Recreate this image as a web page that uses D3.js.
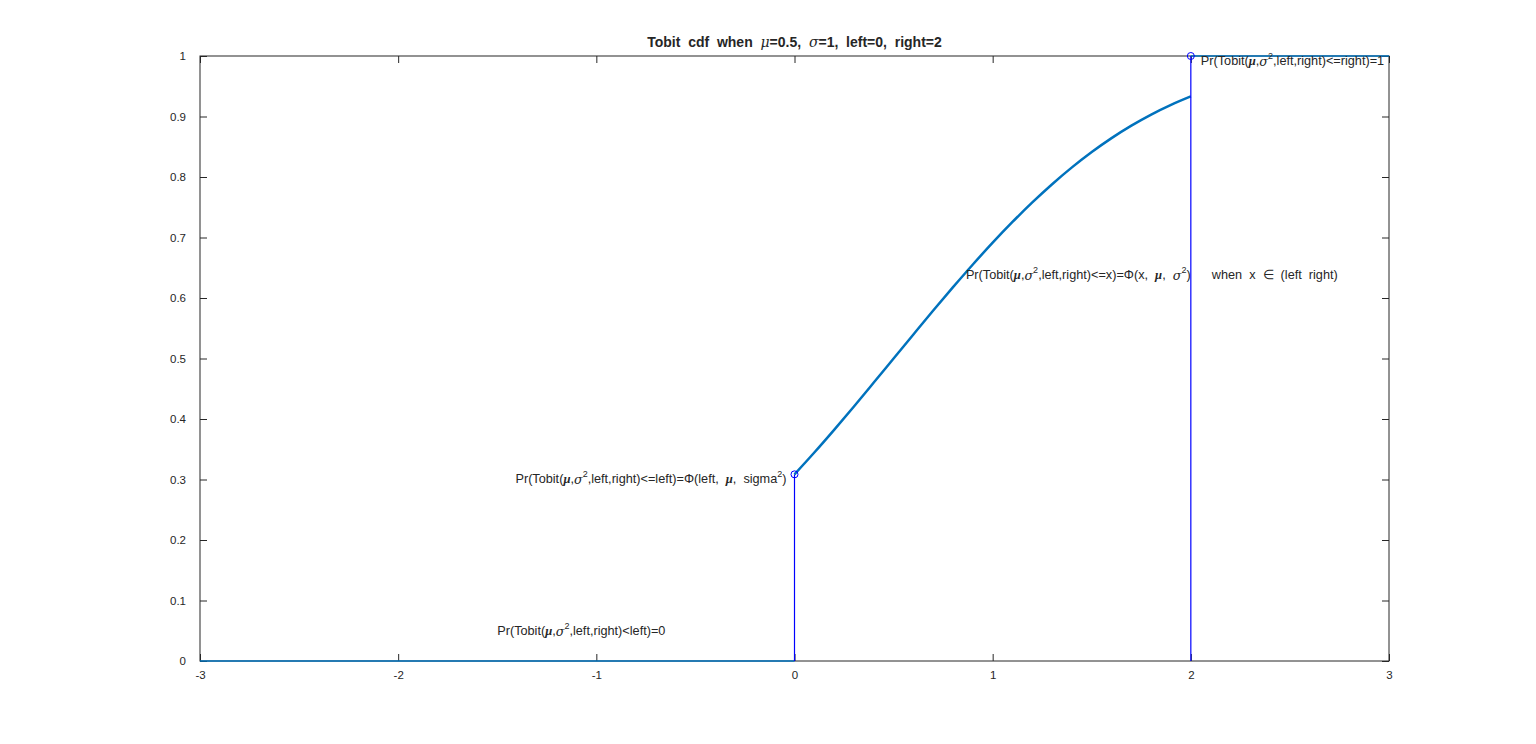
<!DOCTYPE html>
<html><head><meta charset="utf-8">
<script src="https://cdn.jsdelivr.net/npm/d3@7"></script>
<style>
body{margin:0;background:#fff;}
svg text{font-family:"Liberation Sans",Arial,Helvetica,sans-serif;fill:#262626;}
</style></head>
<body>
<svg id="c" width="1536" height="744"></svg>
<script>
const xTicks=[-3,-2,-1,0,1,2,3];
const yTicks=[0,0.1,0.2,0.3,0.4,0.5,0.6,0.7,0.8,0.9,1];
const curveX=[0,0.1,0.2,0.3,0.4,0.5,0.6,0.7,0.8,0.9,1.0,1.1,1.2,1.3,1.4,1.5,1.6,1.7,1.8,1.9,2.0];
const curveY=[0.3085,0.3446,0.3821,0.4207,0.4602,0.5,0.5398,0.5793,0.6179,0.6554,0.6915,0.7257,0.7580,0.7881,0.8159,0.8413,0.8643,0.8849,0.9032,0.9192,0.9332];
const leftX=[-3,0], leftY=[0,0];
const rightX=[2,3], rightY=[1,1];
const stemX=[0,2], stemY=[0.3085,1];

const svg=d3.select("#c");
const L=200,R=1389,T=56,B=661;
const x=d3.scaleLinear().domain([-3,3]).range([L,R]);
const y=d3.scaleLinear().domain([0,1]).range([B,T]);
const fmt=d=>String(d);

const g=svg.append("g");
const ax=(axis,tr)=>{const a=g.append("g").attr("transform",tr).call(axis);
 a.select(".domain").remove(); a.selectAll("line").attr("stroke","#262626");
 a.selectAll("text").style("font-size","11.5px").attr("fill","#262626"); return a;};
ax(d3.axisBottom(x).tickValues(xTicks).tickSizeInner(-7).tickSizeOuter(0).tickPadding(10).tickFormat(fmt),`translate(0,${B})`);
ax(d3.axisTop(x).tickValues(xTicks).tickSizeInner(-7).tickSizeOuter(0).tickFormat(""),`translate(0,${T})`);
ax(d3.axisLeft(y).tickValues(yTicks).tickSizeInner(-7).tickSizeOuter(0).tickPadding(14).tickFormat(fmt),`translate(${L},0)`);
ax(d3.axisRight(y).tickValues(yTicks).tickSizeInner(-7).tickSizeOuter(0).tickFormat(""),`translate(${R},0)`);
g.append("rect").attr("x",L).attr("y",T).attr("width",R-L).attr("height",B-T).attr("fill","none").attr("stroke","#262626").attr("stroke-width",1);

const line=d3.line().x(d=>x(d[0])).y(d=>y(d[1]));
const zip=(a,b)=>a.map((v,i)=>[v,b[i]]);
g.append("path").datum(zip(leftX,leftY)).attr("d",line).attr("fill","none").attr("stroke","#0072BD").attr("stroke-width",1.5);
g.append("path").datum(zip(rightX,rightY)).attr("d",line).attr("fill","none").attr("stroke","#0072BD").attr("stroke-width",1.5);
g.append("path").datum(zip(curveX,curveY)).attr("d",d3.line().curve(d3.curveMonotoneX).x(d=>x(d[0])).y(d=>y(d[1]))).attr("fill","none").attr("stroke","#0072BD").attr("stroke-width",2.5);
stemX.forEach((sx,i)=>{
 g.append("line").attr("x1",x(sx)).attr("x2",x(sx)).attr("y1",y(0)).attr("y2",y(stemY[i])).attr("stroke","#0000FF").attr("stroke-width",1.2);
 g.append("circle").attr("cx",x(sx)).attr("cy",y(stemY[i])).attr("r",3.5).attr("fill","none").attr("stroke","#0000FF").attr("stroke-width",1);
});

const title=svg.append("text").attr("x",(L+R)/2).attr("y",47).attr("text-anchor","middle").style("font-size","14px").style("font-weight","bold").attr("xml:space","preserve");
[["Tobit  cdf  when  ",""],["μ","i"],["=0.5,  ",""],["σ","i"],["=1,  left=0,  right=2",""]].forEach(p=>{
 const t=title.append("tspan").text(p[0]); if(p[1]=="i") t.style("font-style","italic").style("font-family","DejaVu Serif").style("font-weight","normal");});

function ann(px,py,anchor,parts){
 const t=g.append("text").attr("x",px).attr("y",py).attr("text-anchor",anchor).attr("dominant-baseline","middle").style("font-size","12.7px").attr("xml:space","preserve");
 parts.forEach(p=>{const s=t.append("tspan").text(p[0]);
  if(p[1]=="i") s.style("font-style","italic").style("font-family","DejaVu Serif");
  if(p[1]=="b") s.style("font-style","italic").style("font-weight","bold").style("font-family","Liberation Serif");
  if(p[1]=="s"){s.attr("dy",-5).style("font-size","9px");}
  if(p[1]=="u"){s.attr("dy",5);}
 });
}
const pre=[["Pr(Tobit(",""],["μ","b"],[",",""],["σ","i"],["2","s"],[",left,right)","u"]];
ann(x(-1.5),y(0.048),"start",pre.concat([["<left)=0",""]]));
ann(x(0)-8,y(0.299),"end",[["Pr(Tobit(",""],["μ","b"],[",",""],["σ","i"],["2","s"],[",left,right)<=left)=Φ(left,  ","u"],["μ","b"],[",  sigma",""],["2","s"],[")","u"]]);
ann(x(0.865),y(0.636),"start",[["Pr(Tobit(",""],["μ","b"],[",",""],["σ","i"],["2","s"],[",left,right)<=x)=Φ(x,  ","u"],["μ","b"],[",  ",""],["σ","i"],["2","s"],[")      when  x  ∈  (left  right)","u"]]);
ann(x(2)+10,y(0.99),"start",pre.concat([["<=right)=1",""]]));
</script>
</body></html>
